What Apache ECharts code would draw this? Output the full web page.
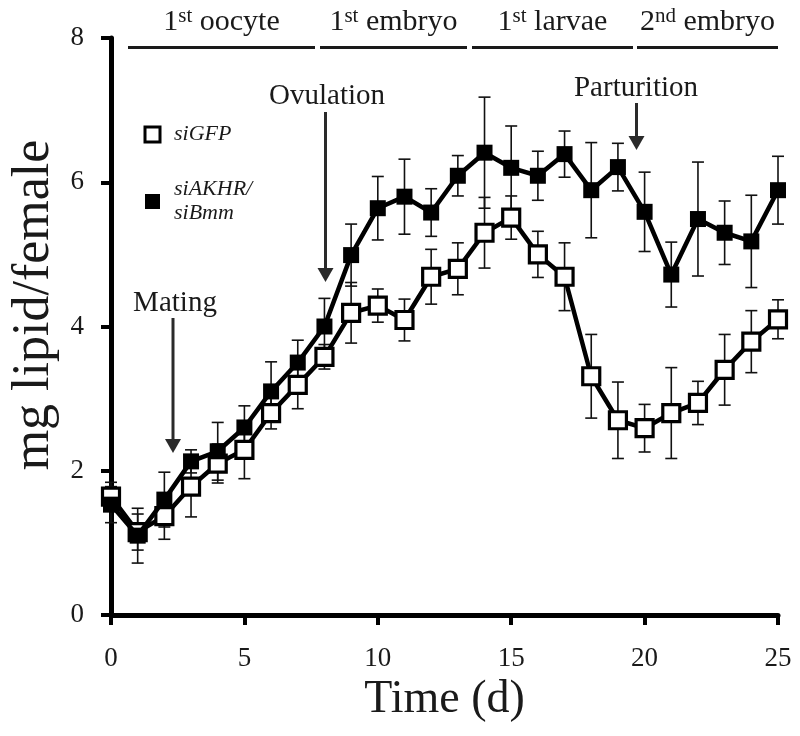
<!DOCTYPE html>
<html>
<head>
<meta charset="utf-8">
<script src="https://cdn.jsdelivr.net/npm/echarts@6/dist/echarts.min.js"></script>
<style>
html,body{margin:0;padding:0;background:#fff;}
#chart{width:800px;height:736px;}
</style>
</head>
<body>
<div id="chart"></div>
<script>
// ---- data ----
const days = [0,1,2,3,4,5,6,7,8,9,10,11,12,13,14,15,16,17,18,19,20,21,22,23,24,25];
const siGFP = [1.64,1.15,1.37,1.78,2.10,2.29,2.80,3.19,3.58,4.19,4.29,4.09,4.69,4.80,5.30,5.51,5.00,4.69,3.31,2.70,2.59,2.80,2.94,3.40,3.79,4.10];
const siGFPerr = [0.20,0.25,0.32,0.42,0.27,0.40,0.22,0.33,0.17,0.42,0.23,0.29,0.38,0.36,0.49,0.30,0.32,0.47,0.58,0.53,0.33,0.63,0.30,0.49,0.43,0.27];
const siAKHR = [1.53,1.10,1.60,2.13,2.27,2.60,3.10,3.50,4.00,4.99,5.64,5.80,5.58,6.09,6.41,6.20,6.09,6.39,5.89,6.21,5.59,4.72,5.49,5.30,5.18,5.89];
const siAKHRerr = [0.25,0.38,0.38,0.16,0.40,0.30,0.41,0.31,0.39,0.43,0.44,0.52,0.33,0.28,0.77,0.58,0.34,0.32,0.66,0.33,0.55,0.45,0.79,0.44,0.64,0.47];
const xTicks = [0,5,10,15,20,25];
const yTicks = [0,2,4,6,8];
const phases = [
  {num:'1', sup:'st', word:' oocyte'},
  {num:'1', sup:'st', word:' embryo'},
  {num:'1', sup:'st', word:' larvae'},
  {num:'2', sup:'nd', word:' embryo'}
];
const seriesNames = ['siGFP', 'siAKHR/\nsiBmm'];
const events = ['Mating','Ovulation','Parturition'];
const xTitle = 'Time (d)';
const yTitle = 'mg lipid/female';

// ---- chart ----
const FONT = '"Liberation Serif","Times New Roman",serif';
const chart = echarts.init(document.getElementById('chart'), null, {renderer:'canvas'});

function errData(vals, errs){
  return days.map((d,i)=>[d, vals[i]-errs[i], vals[i]+errs[i]]);
}
function errSeries(vals, errs){
  return {
    type:'custom',
    z:1,
    silent:true,
    data: errData(vals, errs),
    renderItem: function(params, api){
      const x = api.value(0);
      const lo = api.coord([x, api.value(1)]);
      const hi = api.coord([x, api.value(2)]);
      const cw = 6;
      const st = {stroke:'#111', lineWidth:1.6};
      return {type:'group', children:[
        {type:'line', shape:{x1:lo[0],y1:lo[1],x2:hi[0],y2:hi[1]}, style:st},
        {type:'line', shape:{x1:lo[0]-cw,y1:lo[1],x2:lo[0]+cw,y2:lo[1]}, style:st},
        {type:'line', shape:{x1:hi[0]-cw,y1:hi[1],x2:hi[0]+cw,y2:hi[1]}, style:st}
      ]};
    }
  };
}

const option = {
  animation:false,
  backgroundColor:'#fff',
  grid:{left:111, right:22, top:38, bottom:121, containLabel:false},
  xAxis:{
    type:'value', min:0, max:25, interval:5,
    name:xTitle, nameLocation:'middle', nameGap:62,
    nameTextStyle:{fontFamily:FONT, fontSize:46, color:'#1a1a1a'},
    axisLine:{show:true, onZero:false, lineStyle:{color:'#000', width:5}},
    axisTick:{show:true, length:10, lineStyle:{color:'#000', width:4}},
    axisLabel:{fontFamily:FONT, fontSize:27, color:'#1a1a1a', margin:30},
    splitLine:{show:false}
  },
  yAxis:{
    type:'value', min:0, max:8, interval:2,
    axisLine:{show:true, lineStyle:{color:'#000', width:5}},
    axisTick:{show:true, length:10, lineStyle:{color:'#000', width:4}},
    axisLabel:{fontFamily:FONT, fontSize:27, color:'#1a1a1a', margin:27},
    splitLine:{show:false}
  },
  series:[
    errSeries(siGFP, siGFPerr),
    errSeries(siAKHR, siAKHRerr),
    {
      name:'siGFP', type:'line', z:3,
      data: days.map((d,i)=>[d, siGFP[i]]),
      symbol:'rect', symbolSize:17, showAllSymbol:true,
      lineStyle:{color:'#000', width:4.5},
      itemStyle:{color:'#fff', borderColor:'#000', borderWidth:3.2}
    },
    {
      name:'siAKHR', type:'line', z:4,
      data: days.map((d,i)=>[d, siAKHR[i]]),
      symbol:'rect', symbolSize:16, showAllSymbol:true,
      lineStyle:{color:'#000', width:4.5},
      itemStyle:{color:'#000', borderColor:'#000', borderWidth:0}
    }
  ]
};
chart.setOption(option);

// ---- annotations ----
function arrow(x, y1, y2){
  return {type:'group', children:[
    {type:'line', shape:{x1:x, y1:y1, x2:x, y2:y2-12}, style:{stroke:'#2a2a2a', lineWidth:3}},
    {type:'polygon', shape:{points:[[x-8,y2-14],[x+8,y2-14],[x,y2]]}, style:{fill:'#2a2a2a'}}
  ]};
}
const phaseX = [[128,315],[320,467],[472,633],[637,778]];
const graphics = [];
phases.forEach((p,i)=>{
  const [a,b] = phaseX[i];
  graphics.push({type:'line', shape:{x1:a,y1:47.5,x2:b,y2:47.5}, style:{stroke:'#1a1a1a', lineWidth:3}});
  graphics.push({type:'text', x:(a+b)/2, y:38, style:{
    text:'{n|'+p.num+'}{s|'+p.sup+'}{n|'+p.word+'}',
    align:'center', verticalAlign:'bottom',
    rich:{
      n:{fontFamily:FONT, fontSize:30, fill:'#1a1a1a', lineHeight:32},
      s:{fontFamily:FONT, fontSize:21, fill:'#1a1a1a', lineHeight:32, padding:[0,0,12,0]}
    }
  }});
});
graphics.push({type:'text', x:175, y:303, style:{text:events[0], fontFamily:FONT, fontSize:29, fill:'#1a1a1a', align:'center', verticalAlign:'middle'}});
graphics.push(arrow(173, 318, 453));
graphics.push({type:'text', x:327, y:96, style:{text:events[1], fontFamily:FONT, fontSize:29, fill:'#1a1a1a', align:'center', verticalAlign:'middle'}});
graphics.push(arrow(325.5, 112, 282));
graphics.push({type:'text', x:636, y:88, style:{text:events[2], fontFamily:FONT, fontSize:29, fill:'#1a1a1a', align:'center', verticalAlign:'middle'}});
graphics.push(arrow(636.5, 103, 150));
// y-axis title
graphics.push({type:'text', x:34, y:305, rotation:Math.PI/2, style:{text:yTitle, fontFamily:FONT, fontSize:52, fill:'#1a1a1a', align:'center', verticalAlign:'middle'}});
// legend
graphics.push({type:'rect', shape:{x:145, y:127, width:15, height:15}, style:{fill:'#fff', stroke:'#000', lineWidth:3}});
graphics.push({type:'text', x:174, y:134, style:{text:seriesNames[0], fontFamily:FONT, fontStyle:'italic', fontSize:22, fill:'#1a1a1a', verticalAlign:'middle'}});
graphics.push({type:'rect', shape:{x:145, y:194, width:15, height:15}, style:{fill:'#000'}});
graphics.push({type:'text', x:174, y:201, style:{text:seriesNames[1], fontFamily:FONT, fontStyle:'italic', fontSize:22, lineHeight:24, fill:'#1a1a1a', verticalAlign:'middle'}});
chart.setOption({graphic:graphics});
</script>
</body>
</html>
